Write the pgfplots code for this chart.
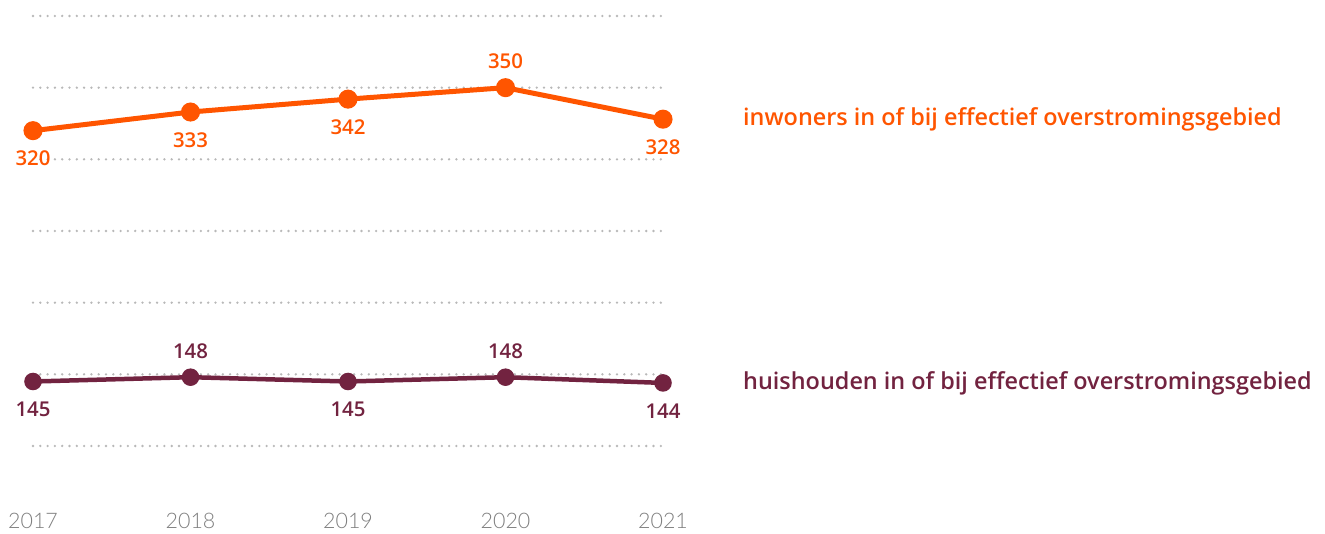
\documentclass[border=0pt]{standalone}
\usepackage{pgfplots}
\pgfplotsset{compat=1.18}
\usepackage{fontspec}
\setmainfont{Open Sans}
\newfontfamily\lightfont{Lato Light}
\IfFontExistsTF{Open Sans Semibold}
  {\newfontfamily\semib{Open Sans Semibold}}
  {\newfontfamily\semib{Open Sans}[UprightFont=*-Bold]\let\oldsemib\semib\renewcommand\semib{\oldsemib\bfseries}}
\definecolor{orng}{HTML}{FF5500}
\definecolor{mrn}{HTML}{722340}
\definecolor{grd}{HTML}{B8B8B8}
\definecolor{tck}{HTML}{7E7E7E}

\begin{document}
\begin{tikzpicture}[x=1bp,y=1bp]
\path (0,0) rectangle (1325,534);
\begin{axis}[
  at={(33bp,88bp)}, anchor=south west,
  scale only axis, width=630bp, height=430bp,
  xmin=2017, xmax=2021, ymin=100, ymax=400,
  clip=false,
  axis line style={draw=none},
  major tick length=0pt,
  ytick={100,150,...,400}, yticklabels={},
  ymajorgrids,
  grid style={grd, line width=2.6bp, dash pattern=on 0bp off 7.3bp, line cap=round},
  xtick={2017,2018,2019,2020,2021},
  xticklabels={2017,2018,2019,2020,2021},
  xticklabel style={font=\lightfont\fontsize{21.5}{21.5}\selectfont, text=tck, anchor=center, yshift=-75bp},
  /pgf/number format/assume math mode=true,
  lbl/.style={draw=none, mark=none, nodes near coords,
    nodes near coords style={font=\semib\fontsize{20.5}{20.5}\selectfont, text=#1, anchor=center}},
]
% inwoners
\addplot[orng, line width=5bp, mark=*, mark size=7bp, mark options={draw=none}]
  coordinates {(2017,320) (2018,333) (2019,342) (2020,350) (2021,328)};
\addplot[lbl=orng, nodes near coords style={yshift=-28bp}]
  coordinates {(2017,320) (2018,333) (2019,342) (2021,328)};
\addplot[lbl=orng, nodes near coords style={yshift=26bp}]
  coordinates {(2020,350)};
% huishouden
\addplot[mrn, line width=4.5bp, mark=*, mark size=6.5bp, mark options={draw=none}]
  coordinates {(2017,145) (2018,148) (2019,145) (2020,148) (2021,144)};
\addplot[lbl=mrn, nodes near coords style={yshift=-28bp}]
  coordinates {(2017,145) (2019,145) (2021,144)};
\addplot[lbl=mrn, nodes near coords style={yshift=26bp}]
  coordinates {(2018,148) (2020,148)};
\end{axis}
\node[anchor=west, text=orng, font=\semib\fontsize{23.5}{23.5}\selectfont, inner sep=0pt] at (743,415) {inwoners in of bij effectief overstromingsgebied};
\node[anchor=west, text=mrn, font=\semib\fontsize{23.5}{23.5}\selectfont, inner sep=0pt] at (743,151) {huishouden in of bij effectief overstromingsgebied};
\end{tikzpicture}
\end{document}
